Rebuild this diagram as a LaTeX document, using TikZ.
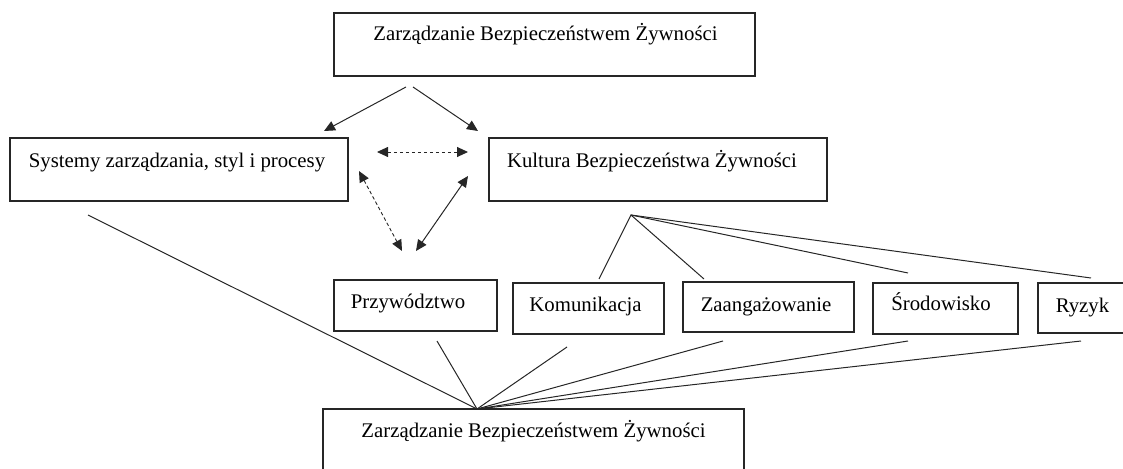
\documentclass[tikz,border=0pt]{standalone}
\usepackage{fontspec}
\setmainfont{Liberation Serif}
\usetikzlibrary{arrows.meta}

\begin{document}
\begin{tikzpicture}[x=1pt,y=-1pt,
  box/.style={draw=black!85, line width=1.1pt, rectangle},
  lbl/.style={anchor=base, inner sep=0pt, font=\fontsize{20.8}{25}\selectfont},
  link/.style={line width=1pt, black!85},
  tip/.style={-{Triangle[length=11pt,width=10pt]}},
  tips/.style={{Triangle[length=11pt,width=10pt]}-{Triangle[length=11pt,width=10pt]}},
  dashlink/.style={line width=0.9pt, black!85, dash pattern=on 3.5pt off 2.5pt}
]
\useasboundingbox (0,0) rectangle (1123,468);
\clip (0,0) rectangle (1123,468);

% boxes
\draw[box] (334,13) rectangle (755,76) node[pos=0.5, inner sep=0pt] (top) {};
\draw[box] (10,138) rectangle (348,201) node[pos=0.5, inner sep=0pt] (sys) {};
\draw[box] (489,138) rectangle (827,201) node[pos=0.5, inner sep=0pt] (kult) {};
\draw[box] (334,280) rectangle (497,331) node[pos=0.5, inner sep=0pt] (przyw) {};
\draw[box] (513,283) rectangle (664,334) node[pos=0.5, inner sep=0pt] (komun) {};
\draw[box] (683,282) rectangle (854,332) node[pos=0.5, inner sep=0pt] (zaang) {};
\draw[box] (873,283) rectangle (1018,334) node[pos=0.5, inner sep=0pt] (srod) {};
\draw[box] (1038,283) rectangle (1140,333) node[pos=0.5, inner sep=0pt] (ryzyk) {};
\draw[box] (323,409) rectangle (744,490) node[pos=0.5, inner sep=0pt] (bottom) {};

% texts
\node[lbl] (ttop) at (545.5,41) {Zarządzanie Bezpieczeństwem Żywności};
\node[lbl] (tsys) at (177,167) {Systemy zarządzania, styl i procesy};
\node[lbl] (tkult) at (652,167) {Kultura Bezpieczeństwa Żywności};
\node[lbl] (tprzyw) at (408,308) {Przywództwo};
\node[lbl] (tkomun) at (585.5,311) {Komunikacja};
\node[lbl] (tzaang) at (766,311) {Zaangażowanie};
\node[lbl] (tsrod) at (941,310) {Środowisko};
\node[lbl] (tryzyk) at (1082.5,312) {Ryzyk};
\node[lbl] (tbottom) at (533.5,437) {Zarządzanie Bezpieczeństwem Żywności};

% end points of the connectors
\coordinate (topL) at (406,87);
\coordinate (topR) at (413,87);
\coordinate (sysIn) at (324,131);
\coordinate (kultIn) at (478,131);
\coordinate (hL) at (377,152);
\coordinate (hR) at (468,152);
\coordinate (dTop) at (359,171);
\coordinate (dBot) at (402,251);
\coordinate (sTop) at (468,176);
\coordinate (sBot) at (416,251);
\coordinate (kHub) at (631,215);
\coordinate (komTop) at (599,279);
\coordinate (zaTop) at (704,279);
\coordinate (srTop) at (908,273);
\coordinate (ryTop) at (1091,278);
\coordinate (bHub) at (477,409);
\coordinate (sysOut) at (88,215);
\coordinate (prOut) at (437,341);
\coordinate (koOut) at (567,347);
\coordinate (zaOut) at (723,341);
\coordinate (srOut) at (908,341);
\coordinate (ryOut) at (1081,341);

% arrows from the top box
\draw[link, tip] (topL) -- (sysIn);
\draw[link, tip] (topR) -- (kultIn);

% mutual relations
\draw[dashlink, tips] (hL) -- (hR);
\draw[dashlink, tips] (dTop) -- (dBot);
\draw[link, tips] (sTop) -- (sBot);

% culture elements
\draw[link] (komTop) -- (kHub) -- (zaTop);
\draw[link] (kHub) -- (srTop);
\draw[link] (kHub) -- (ryTop);

% lines to the bottom box
\foreach \p in {sysOut,prOut,koOut,zaOut,srOut,ryOut}
  \draw[link] (\p) -- (bHub);
\end{tikzpicture}
\end{document}
